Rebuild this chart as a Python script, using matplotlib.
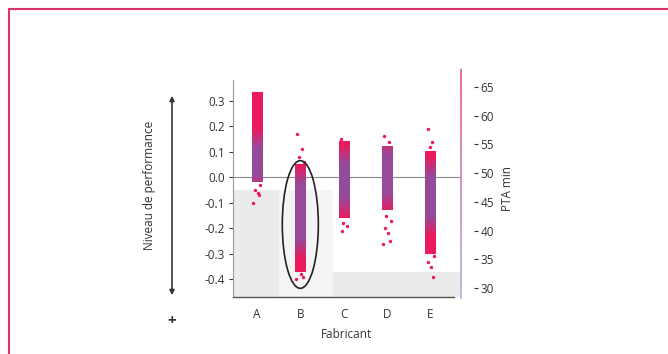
import numpy as np
import matplotlib
matplotlib.use("Agg")
import matplotlib.pyplot as plt
from matplotlib.patches import Ellipse, Rectangle, FancyArrowPatch
from matplotlib.collections import LineCollection
from matplotlib.colors import to_rgb

plt.rcParams['font.family'] = ['Open Sans', 'DejaVu Sans']

# data
fabricants = ['A', 'B', 'C', 'D', 'E']
core_lo = [-0.02, -0.37, -0.16, -0.13, -0.30]
core_hi = [0.33, 0.05, 0.14, 0.12, 0.10]
blue_lo = [0.01, -0.24, -0.08, -0.06, -0.15]
blue_hi = [0.11, -0.03, 0.05, 0.08, 0.0]
outliers = [
    [0.33, 0.31, 0.29, -0.03, -0.05, -0.06, -0.07, -0.10],
    [0.17, 0.11, 0.08, 0.06, 0.04, -0.38, -0.39, -0.40],
    [0.15, 0.14, -0.18, -0.19, -0.21],
    [0.16, 0.14, -0.15, -0.17, -0.20, -0.22, -0.25, -0.26],
    [0.19, 0.14, 0.12, -0.31, -0.33, -0.35, -0.39],
]
pta_ticks = [30, 35, 40, 45, 50, 55, 60, 65]
perf_ticks = [-0.4, -0.3, -0.2, -0.1, 0.0, 0.1, 0.2, 0.3]

pink = np.array(to_rgb('#ec1a5c'))
blue = np.array(to_rgb('#5a6cc8'))
txt = '#333333'

fig = plt.figure(figsize=(6.68, 3.54), dpi=100)
ax = fig.add_axes([233/668, 1-297/354, 228/668, 217/354])
ax.set_xlim(-0.55, 4.7)
ax.set_ylim(-0.469, 0.381)

# grey background
ax.fill_between([-0.55, 0.5], -0.469, -0.05, color='#ebebeb', lw=0, zorder=0)
ax.fill_between([0.5, 1.75], -0.469, -0.05, color='#f4f4f4', lw=0, zorder=0)
ax.fill_between([1.75, 4.7], -0.469, -0.37, color='#ebebeb', lw=0, zorder=0)

ax.axhline(0, color='#8a8a8a', lw=0.8, zorder=1)

hw = 0.12
offs = [-0.07, 0.04, -0.02, 0.08, -0.05, 0.02, 0.06, -0.09]
for i in range(len(fabricants)):
    ys = np.linspace(core_lo[i], core_hi[i], 200)
    d = np.maximum(blue_lo[i] - ys, ys - blue_hi[i])
    w = np.clip(1 - d / 0.08, 0, 1) * 0.6
    col = pink[None, :] * (1 - w[:, None]) + blue[None, :] * w[:, None]
    img = np.ones((len(ys), 1, 4))
    img[:, 0, :3] = col
    ax.imshow(img, extent=[i - hw, i + hw, core_lo[i], core_hi[i]],
              origin='lower', aspect='auto', interpolation='bilinear', zorder=2)
    ox = [i + offs[k % len(offs)] for k in range(len(outliers[i]))]
    ax.scatter(ox, outliers[i], s=6, color=pink, lw=0, zorder=3)

ax.set_xlim(-0.55, 4.7)
ax.set_ylim(-0.469, 0.381)

ax.add_patch(Ellipse((1, -0.185), 0.83, 0.50, fill=False, ec='#222222', lw=1.2, zorder=4))

ax.set_xticks(range(len(fabricants)))
ax.set_xticklabels(fabricants)
ax.set_yticks(perf_ticks)
ax.set_yticklabels([f'{v:.1f}' for v in perf_ticks])
ax.tick_params(axis='x', length=0, pad=8, labelsize=8.5, colors=txt)
ax.tick_params(axis='y', length=3, width=0.8, pad=3, labelsize=8.5, colors=txt)
ax.set_xlabel('Fabricant', fontsize=8.5, color=txt, labelpad=5)
for s in ['top', 'right']:
    ax.spines[s].set_visible(False)
ax.spines['left'].set_color('#9a9a9a')
ax.spines['bottom'].set_color('#555555')
ax.spines['bottom'].set_linewidth(1.0)
ax.spines['bottom'].set_bounds(-0.55, 4.55)

ax2 = ax.twinx()
ax2.set_ylim(28.43, 66.22)
ax2.set_yticks(pta_ticks)
ax2.spines['right'].set_position(('outward', 9))
for s in ['top', 'right', 'left', 'bottom']:
    ax2.spines[s].set_visible(False)
ax2.tick_params(axis='y', length=3, width=0.8, pad=2, labelsize=8.5, colors=txt)
ax2.set_ylabel('PTA min', fontsize=8.5, color=txt, labelpad=5)

# gradient right spine
yy = np.linspace(-0.01, 1.05, 60)
segs = [[(1, yy[k]), (1, yy[k + 1])] for k in range(len(yy) - 1)]
g = np.linspace(0, 1, len(segs))[:, None]
cols = np.array(to_rgb('#aab4e8'))[None, :] * (1 - g) + np.array(to_rgb('#e8527f'))[None, :] * g
lc = LineCollection(segs, colors=cols, lw=1.2, transform=ax2.transAxes, clip_on=False)
ax2.add_collection(lc)

# performance arrow
fig.add_artist(FancyArrowPatch((172/668, 1-93/354), (172/668, 1-298/354),
                               arrowstyle='<|-|>', mutation_scale=7, color='#333333',
                               lw=1.2, transform=fig.transFigure))
fig.text(150/668, 1-185/354, 'Niveau de performance', rotation=90, ha='center', va='center',
         fontsize=8.5, color=txt)
fig.text(172/668, 1-321/354, '+', ha='center', va='center', fontsize=11, color=txt,
         fontweight='bold')

# pink frame
fig.add_artist(Rectangle((9/668, -0.1), 1.2, 1 - 9/354 + 0.1, transform=fig.transFigure,
                         fill=False, ec='#d8346b', lw=1.5))

fig.savefig('out.png', dpi=100)
